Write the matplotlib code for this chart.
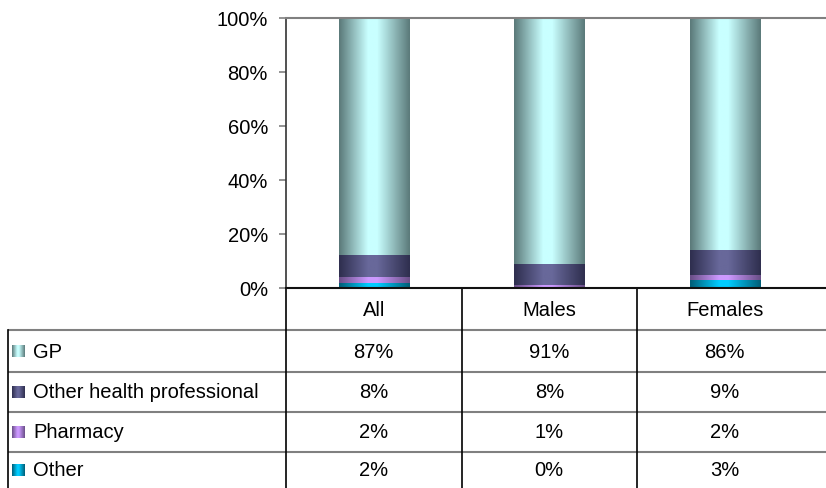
import numpy as np
import matplotlib
matplotlib.use("Agg")
import matplotlib.pyplot as plt
from matplotlib.colors import LinearSegmentedColormap

categories = ["All", "Males", "Females"]
series = ["GP", "Other health professional", "Pharmacy", "Other"]
gp = [87, 91, 86]
ohp = [8, 8, 9]
pharmacy = [2, 1, 2]
other = [2, 0, 3]
yticks = [0, 20, 40, 60, 80, 100]

values = {"GP": gp, "Other health professional": ohp, "Pharmacy": pharmacy, "Other": other}
# (edge, center) colours of the cylinder-like gradient
grad = {
    "GP": ("#5c7b7b", "#c9ffff"),
    "Other health professional": ("#2f2f4f", "#68689a"),
    "Pharmacy": ("#6a4f88", "#cc99ff"),
    "Other": ("#005f78", "#00ccff"),
}

plt.rcParams['font.family'] = ['Liberation Sans', 'DejaVu Sans']
FS = 14.5
W, H = 826, 489
fig = plt.figure(figsize=(W / 100, H / 100), dpi=100)

ax_l, ax_r, ax_t, ax_b = 286, 826, 19, 289
ax = fig.add_axes([ax_l / W, (H - ax_b) / H, (ax_r - ax_l) / W, (ax_b - ax_t) / H])
ax.set_xlim(-0.5, -0.5 + (ax_r - ax_l) / 175.5)
ax.set_ylim(0, 100)

def gradient_img(edge, center, n=64):
    cmap = LinearSegmentedColormap.from_list("g", [edge, center])
    t = np.linspace(0, 1, n)
    c = 0.47
    v = np.where(t < c, t / c, (1 - t) / (1 - c))
    v = np.clip(v * 1.15, 0, 1)
    return cmap(v)[None, :, :]

x = np.arange(len(categories))
totals = np.sum([values[s] for s in series], axis=0)
bottom = np.zeros(len(categories))
stack_order = ["Other", "Pharmacy", "Other health professional", "GP"]
for s in stack_order:
    v = np.array(values[s], dtype=float) / totals * 100
    bars = ax.bar(x, v, 0.4, bottom=bottom, color="none", edgecolor="none", zorder=2)
    img = gradient_img(*grad[s])
    for b in bars:
        if b.get_height() <= 0:
            continue
        x0, y0 = b.get_x(), b.get_y()
        im = ax.imshow(img, extent=(x0, x0 + b.get_width(), y0, y0 + b.get_height()),
                       aspect="auto", interpolation="bilinear", zorder=2)
        im.set_clip_path(b)
    bottom += v

ax.set_yticks(yticks)
ax.set_yticklabels([f"{t}%" for t in yticks], fontsize=FS)
ax.set_xticks([])
ax.tick_params(axis="y", direction="out", length=5, color="#808080", width=1.2, pad=8)
ax.spines["right"].set_visible(False)
ax.spines["top"].set_color("#808080")
ax.spines["top"].set_linewidth(1.5)
ax.spines["left"].set_color("#333333")
ax.spines["left"].set_linewidth(1.2)
ax.spines["bottom"].set_color("#111111")
ax.spines["bottom"].set_linewidth(1.5)
ax.set_xlim(-0.5, -0.5 + (ax_r - ax_l) / 175.5)
ax.set_ylim(0, 100)

# Data table drawn in a full-figure pixel axes
tab = fig.add_axes([0, 0, 1, 1], zorder=-1)
tab.set_xlim(0, W)
tab.set_ylim(H, 0)
tab.axis("off")

def px(xd):
    return ax.transData.transform((xd, 0))[0]

left_edge = 8
head_top, head_bot = 289, 331
row_lines = [331, 373, 413, 453]
row_centers = [352, 393, 433, 471]

for yl in row_lines:
    tab.plot([left_edge, W], [yl, yl], color="#808080", lw=1.5, solid_capstyle="butt")
tab.plot([left_edge, left_edge], [head_bot, H], color="black", lw=1.2)
for i in range(len(categories)):
    xb = px(i - 0.5)
    tab.plot([xb, xb], [head_top, H], color="black", lw=1.2)
for i, c in enumerate(categories):
    tab.text(px(i), 310, c, ha="center", va="center", fontsize=FS)

for r, s in enumerate(series):
    yc = row_centers[r]
    img = gradient_img(*grad[s])
    tab.imshow(img, extent=(12, 25, yc + 6, yc - 6), aspect="auto", interpolation="bilinear")
    tab.text(33, yc, s, ha="left", va="center", fontsize=FS)
    for i in range(len(categories)):
        tab.text(px(i), yc, f"{values[s][i]}%", ha="center", va="center", fontsize=FS)
tab.set_xlim(0, W)
tab.set_ylim(H, 0)

fig.savefig("out.png", dpi=100)
